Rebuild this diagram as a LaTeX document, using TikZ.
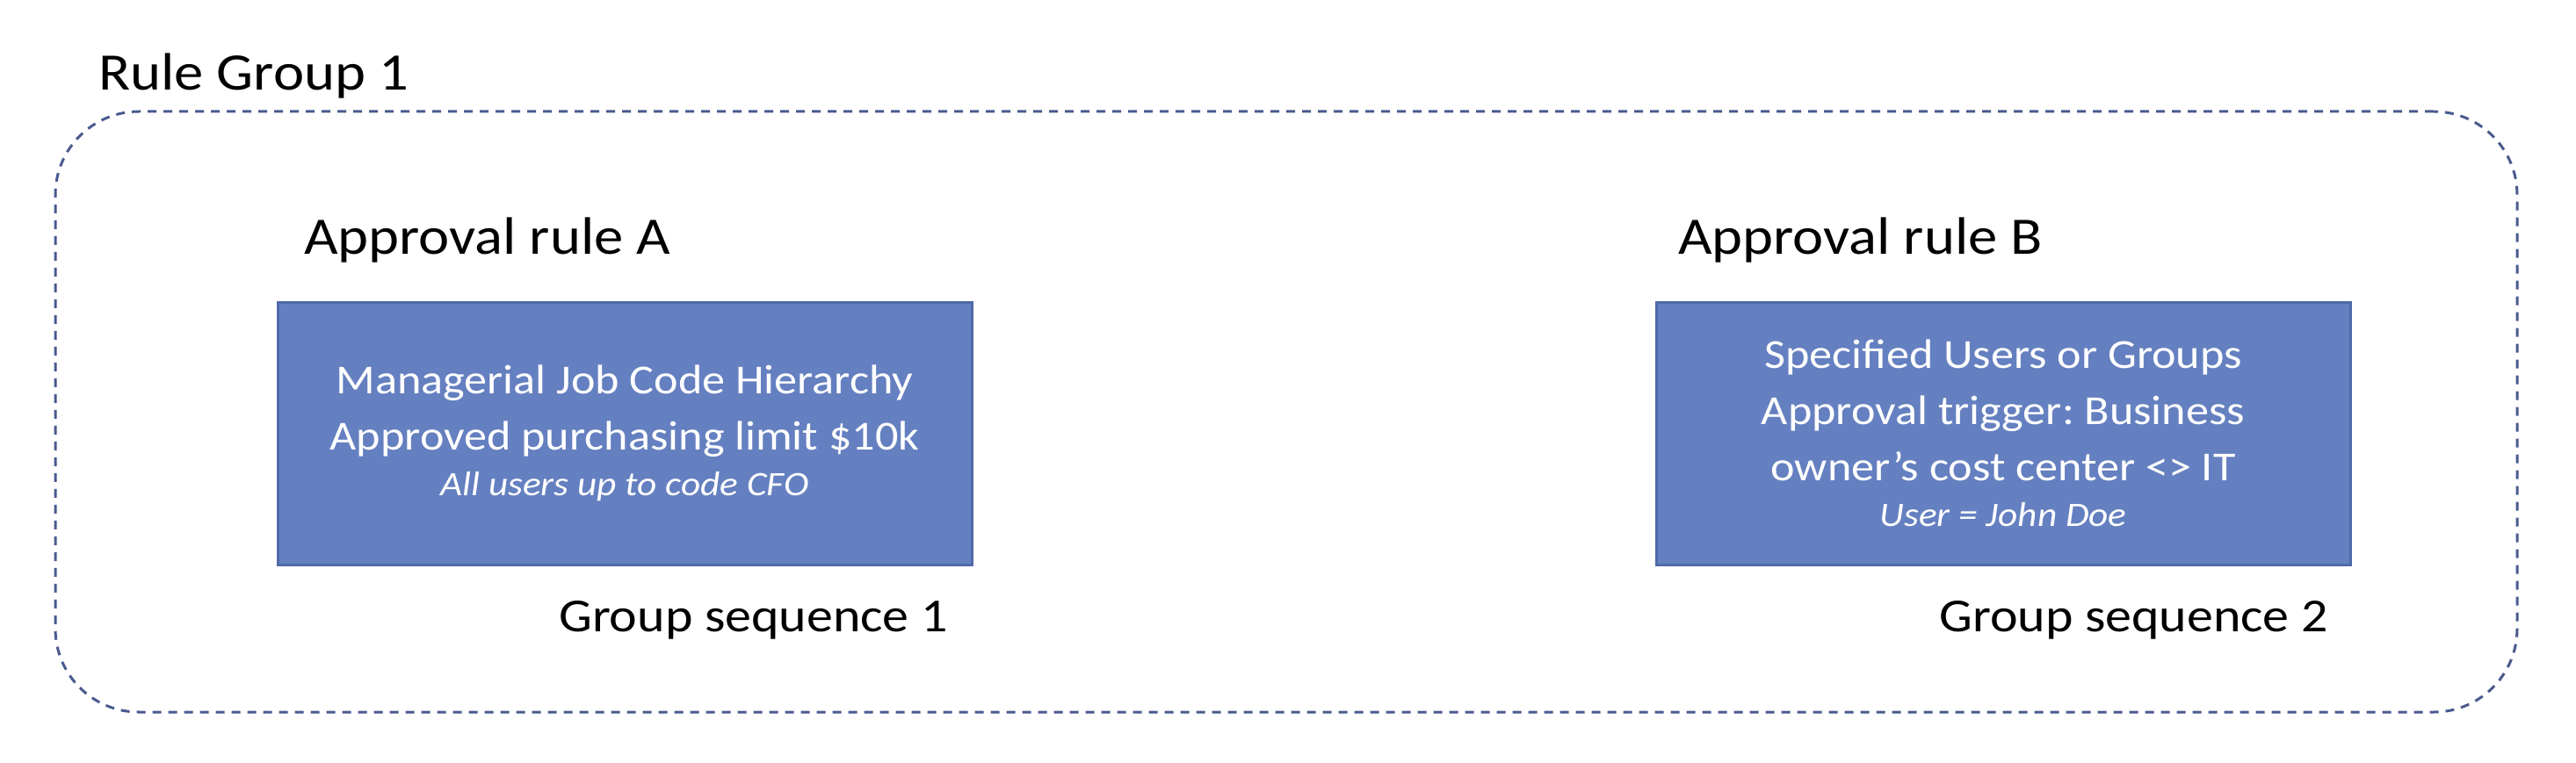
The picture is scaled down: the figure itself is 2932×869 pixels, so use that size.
\documentclass[tikz,border=0pt]{standalone}
\usepackage{fontspec}
\setmainfont{Carlito}[FakeStretch=1.11]
\frenchspacing
\definecolor{boxfill}{HTML}{6580C0}
\definecolor{boxline}{HTML}{4F6AA8}
\definecolor{dashcol}{HTML}{4A5A8E}
\begin{document}
\begin{tikzpicture}[x=1pt,y=-1pt,
  grp/.style={draw=dashcol, line width=3pt, dash pattern=on 10pt off 8pt, rounded corners=95pt, minimum width=2802pt, minimum height=684pt, inner sep=0pt},
  rulebox/.style={draw=boxline, line width=3pt, fill=boxfill, minimum width=790pt, minimum height=299pt, inner sep=0pt, text=white, align=center, font=\fontsize{47}{64}\selectfont},
  title/.style={anchor=base west, inner sep=0pt, font=\fontsize{60}{72}\selectfont},
  seq/.style={anchor=base west, inner sep=0pt, font=\fontsize{54}{64}\selectfont}]
\useasboundingbox (0,0) rectangle (2932,869);
\node[grp] (G) at (1464,469) {};
\node[title] (rg) at (112,103) {Rule Group 1};
\node[title] (ta) at (346,289) {Approval rule A};
\node[title] (tb) at (1910,289) {Approval rule B};
\node[rulebox] (A) at (711,493.5) {Managerial Job Code Hierarchy\\Approved purchasing limit \$10k\\[-12pt]{\fontsize{39}{52}\selectfont\itshape All users up to code CFO}};
\node[rulebox] (B) at (2280,493.5) {Specified Users or Groups\\Approval trigger: Business\\owner’s cost center <> IT\\[-12pt]{\fontsize{39}{52}\selectfont\itshape User = John Doe}};
\node[seq] (sa) at (636,719) {Group sequence 1};
\node[seq] (sb) at (2207,719) {Group sequence 2};
\end{tikzpicture}
\end{document}
